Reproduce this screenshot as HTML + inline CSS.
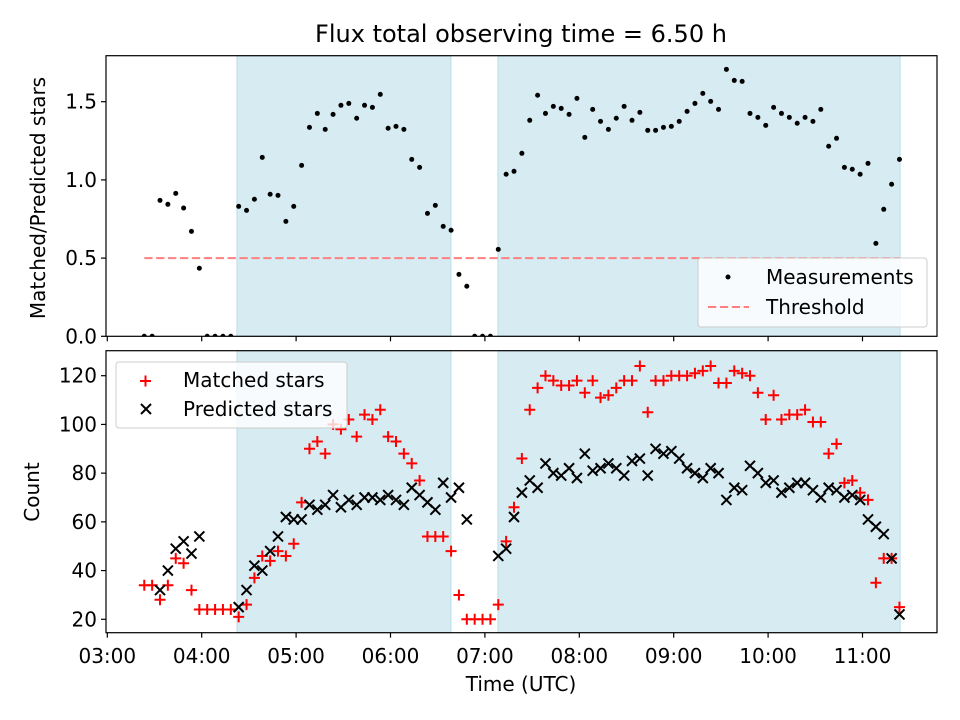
<!DOCTYPE html>
<html><head><meta charset="utf-8"><style>
html,body{margin:0;padding:0;background:#fff;}
svg{display:block;font-family:"DejaVu Sans","Liberation Sans",sans-serif;}
</style></head><body>
<svg id="chart" width="960" height="720" xmlns="http://www.w3.org/2000/svg"></svg>
<script>
// ---- data ----
const timesMin = [203.5,208.5,213.5,218.5,223.5,228.5,233.5,238.5,243.5,248.5,253.5,258.5,263.5,268.5,273.5,278.5,283.5,288.5,293.5,298.5,303.5,308.5,313.5,318.5,323.5,328.5,333.5,338.5,343.5,348.5,353.5,358.5,363.5,368.5,373.5,378.5,383.5,388.5,393.5,398.5,403.5,408.5,413.5,418.5,423.5,428.5,433.5,438.5,443.5,448.5,453.5,458.5,463.5,468.5,473.5,478.5,483.5,488.5,493.5,498.5,503.5,508.5,513.5,518.5,523.5,528.5,533.5,538.5,543.5,548.5,553.5,558.5,563.5,568.5,573.5,578.5,583.5,588.5,593.5,598.5,603.5,608.5,613.5,618.5,623.5,628.5,633.5,638.5,643.5,648.5,653.5,658.5,663.5,668.5,673.5,678.5,683.5];
const ratio = [0,0,0.869,0.844,0.914,0.820,0.671,0.435,0,0,0,0,0.831,0.805,0.876,1.144,0.908,0.901,0.735,0.831,1.093,1.336,1.425,1.323,1.419,1.477,1.489,1.394,1.477,1.464,1.547,1.330,1.342,1.323,1.131,1.080,0.786,0.837,0.703,0.678,0.396,0.320,0,0,0,0.556,1.036,1.055,1.170,1.381,1.541,1.425,1.470,1.457,1.419,1.521,1.272,1.451,1.374,1.323,1.394,1.470,1.381,1.432,1.317,1.317,1.336,1.342,1.374,1.438,1.489,1.553,1.502,1.451,1.707,1.636,1.630,1.425,1.400,1.349,1.464,1.425,1.400,1.362,1.400,1.374,1.451,1.215,1.266,1.080,1.068,1.036,1.106,0.594,0.812,0.972,1.131];
const matched = [34,34,28,34,45,43,32,24,24,24,24,24,21,26,37,46,44,48,46,51,68,90,93,88,100,98,102,95,104,102,106,95,93,88,84,77,54,54,54,48,30,20,20,20,20,26,52,66,86,106,115,120,118,116,116,118,113,118,111,112,115,118,118,124,105,118,118,120,120,120,121,122,124,117,117,122,121,120,113,102,112,102,104,104,106,101,101,88,92,76,77,72,69,35,45,45,25];
const predicted = [null,null,32,40,49,52,47,54,null,null,null,null,25,32,42,40,48,54,62,61,61,67,65,67,71,66,69,67,70,70,69,71,69,67,74,71,68,65,76,70,74,61,null,null,null,46,49,62,72,77,74,84,80,79,82,78,88,81,82,84,82,79,85,86,79,90,88,89,86,82,80,78,82,80,69,74,73,83,80,76,77,72,74,76,76,73,70,74,73,70,71,69,61,58,55,45,22];
const spansMin = [[262.4,398.4],[428.3,683.9]];
const threshold = 0.5;
const xTickLabels = ["03:00","04:00","05:00","06:00","07:00","08:00","09:00","10:00","11:00"];
const xTickMin = [180,240,300,360,420,480,540,600,660];
const topTicks = [0.0,0.5,1.0,1.5];
const botTicks = [20,40,60,80,100,120];

// ---- layout ----
const L=106,R=937, T1=55.7,B1=336.3, T2=350.7,B2=632.7;
const FS=20;
const xs = m => 107.3 + (m-180)*94.4/60;
const yTop = v => 336.3 - v*156.4;
const yBot = v => 619.3 - (v-20)*2.436;
const NS="http://www.w3.org/2000/svg";
const svg=document.getElementById('chart');
function el(tag,attrs,parent){const e=document.createElementNS(NS,tag);for(const k in attrs)e.setAttribute(k,attrs[k]);(parent||svg).appendChild(e);return e;}
function txt(s,attrs,parent){const e=el('text',attrs,parent);e.textContent=s;return e;}

// title
const title=txt("Flux total observing time = 6.50 h",{x:521,y:42,'text-anchor':'middle','font-size':'24',fill:'#000'});



function panel(T,B,name){
  const g=el('g',{});
  
  
  const clipId=name+'-clip';
  const cp=el('clipPath',{id:clipId},g);el('rect',{x:L,y:T,width:R-L,height:B-T},cp);
  spansMin.forEach((s,i)=>{
    const r=el('rect',{x:xs(s[0]),y:T,width:xs(s[1])-xs(s[0]),height:B-T,fill:'#d6ebf2',stroke:'#bcdde8','stroke-width':1},g);
    
    
  });
  return {g,clipId};
}

// ---- top panel ----
const P1=panel(T1,B1,'ratio-panel');
const thr=el('line',{x1:xs(timesMin[0]),x2:xs(timesMin[timesMin.length-1]),y1:yTop(threshold),y2:yTop(threshold),stroke:'#ff8080','stroke-width':2,'stroke-dasharray':'8.3,3.6'},P1.g);


const mg=el('g',{'clip-path':'url(#'+P1.clipId+')'},P1.g);
ratio.forEach((v,i)=>{
  const c=el('circle',{cx:xs(timesMin[i]),cy:yTop(v),r:2.5,fill:'#000'},mg);
  
  
});
el('rect',{x:L,y:T1,width:R-L,height:B1-T1,fill:'none',stroke:'#000','stroke-width':1.2},P1.g);
topTicks.forEach(v=>{
  const y=yTop(v);
  el('line',{x1:L,x2:L-5,y1:y,y2:y,stroke:'#000','stroke-width':1.2},P1.g);
  const t=txt(v.toFixed(1),{x:L-9,y:y+7,'text-anchor':'end','font-size':FS},P1.g);
  
  
});
xTickMin.forEach(m=>{el('line',{x1:xs(m),x2:xs(m),y1:B1,y2:B1+5,stroke:'#000','stroke-width':1.2},P1.g);});
const yl1=txt("Matched/Predicted stars",{x:0,y:0,transform:'translate(45,198) rotate(-90)','text-anchor':'middle','font-size':FS},P1.g);


// legend top
const lg1=el('g',{});


el('rect',{x:698,y:258,width:229,height:69,rx:3,fill:'rgba(255,255,255,0.8)',stroke:'#ccc','stroke-width':1},lg1);
el('circle',{cx:728,cy:277,r:2.5,fill:'#000'},lg1);
const le1=txt("Measurements",{x:766,y:284,'font-size':FS},lg1);


el('line',{x1:708,x2:749,y1:307,y2:307,stroke:'#ff8080','stroke-width':2,'stroke-dasharray':'8.3,3.6'},lg1);
const le2=txt("Threshold",{x:766,y:314,'font-size':FS},lg1);



// ---- bottom panel ----
const P2=panel(T2,B2,'count-panel');
const sg=el('g',{'clip-path':'url(#'+P2.clipId+')'},P2.g);
matched.forEach((v,i)=>{
  if(v===null)return;
  const x=xs(timesMin[i]),y=yBot(v);
  const p=el('path',{d:`M${x-5.5},${y}H${x+5.5}M${x},${y-5.5}V${y+5.5}`,stroke:'#ff0000','stroke-width':2,fill:'none'},sg);
  
  
});
predicted.forEach((v,i)=>{
  if(v===null)return;
  const x=xs(timesMin[i]),y=yBot(v);
  const p=el('path',{d:`M${x-5},${y-5}L${x+5},${y+5}M${x-5},${y+5}L${x+5},${y-5}`,stroke:'#000','stroke-width':2,fill:'none'},sg);
  
  
});
el('rect',{x:L,y:T2,width:R-L,height:B2-T2,fill:'none',stroke:'#000','stroke-width':1.2},P2.g);
botTicks.forEach(v=>{
  const y=yBot(v);
  el('line',{x1:L,x2:L-5,y1:y,y2:y,stroke:'#000','stroke-width':1.2},P2.g);
  const t=txt(String(v),{x:L-9,y:y+7,'text-anchor':'end','font-size':FS},P2.g);
  
  
});
xTickMin.forEach((m,i)=>{
  el('line',{x1:xs(m),x2:xs(m),y1:B2,y2:B2+5,stroke:'#000','stroke-width':1.2},P2.g);
  const t=txt(xTickLabels[i],{x:xs(m),y:663,'text-anchor':'middle','font-size':FS},P2.g);
  
  
});
const yl2=txt("Count",{x:0,y:0,transform:'translate(39,492) rotate(-90)','text-anchor':'middle','font-size':FS},P2.g);


const xl=txt("Time (UTC)",{x:521,y:691,'text-anchor':'middle','font-size':FS},P2.g);


// legend bottom
const lg2=el('g',{});


el('rect',{x:116,y:362,width:231,height:66,rx:3,fill:'rgba(255,255,255,0.8)',stroke:'#ccc','stroke-width':1},lg2);
el('path',{d:'M140,381H151M145.5,375.5V386.5',stroke:'#ff0000','stroke-width':2},lg2);
const le3=txt("Matched stars",{x:183,y:387,'font-size':FS},lg2);


el('path',{d:'M141,404L151,414M141,414L151,404',stroke:'#000','stroke-width':2},lg2);
const le4=txt("Predicted stars",{x:183,y:416,'font-size':FS},lg2);


</script>
</body></html>
